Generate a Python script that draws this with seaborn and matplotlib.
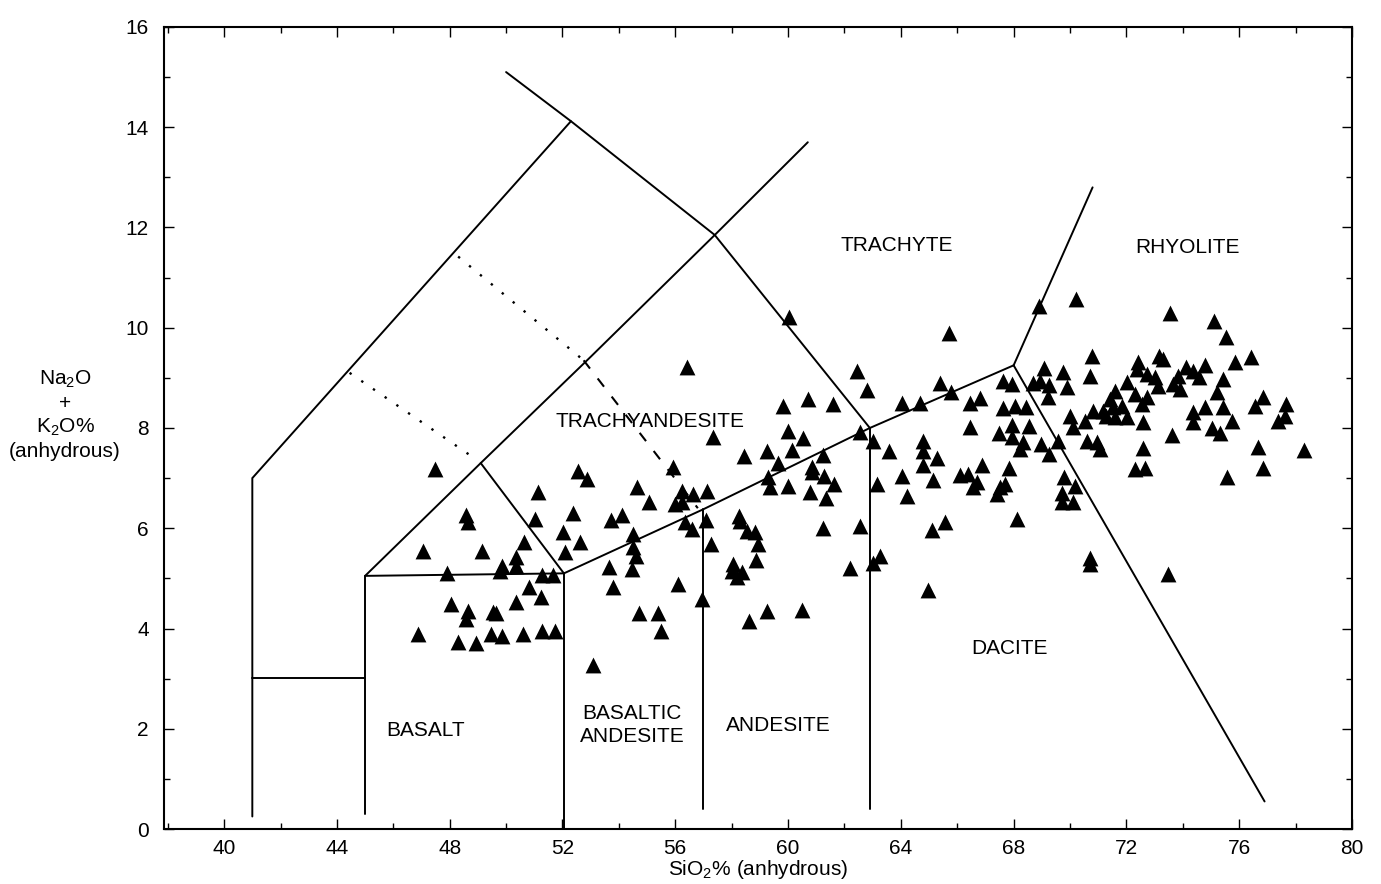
import numpy as np
import pandas as pd
import matplotlib
matplotlib.use("Agg")
import matplotlib.pyplot as plt
import seaborn as sns

# ---------------- data ----------------
# basaltic / trachybasaltic field samples
sio2_a = [47.48, 52.55, 52.87, 55.92, 51.13, 54.65, 55.07, 48.58, 48.65, 51.03, 52.38, 53.72, 54.11,
          52.02, 52.62, 52.09, 47.06, 49.15, 50.64, 50.35, 50.35, 49.86, 49.79, 47.90, 51.28, 51.67,
          54.50, 54.50, 54.61, 54.47, 53.65, 53.79, 56.10, 50.82, 51.24, 50.35, 48.05, 48.65, 48.58,
          49.54, 49.65, 54.72, 55.39, 55.50, 46.88, 48.30, 48.94, 49.47, 49.86, 50.60, 51.28, 51.74, 53.09]
alk_a = [7.18, 7.14, 6.98, 7.22, 6.72, 6.82, 6.52, 6.26, 6.12, 6.18, 6.30, 6.16, 6.26,
         5.92, 5.72, 5.52, 5.54, 5.54, 5.72, 5.42, 5.24, 5.24, 5.14, 5.10, 5.06, 5.06,
         5.88, 5.62, 5.44, 5.18, 5.22, 4.82, 4.88, 4.82, 4.62, 4.52, 4.48, 4.34, 4.18,
         4.32, 4.30, 4.30, 4.30, 3.96, 3.90, 3.74, 3.72, 3.90, 3.86, 3.90, 3.96, 3.96, 3.28]

# andesitic field samples
sio2_b = [56.42, 59.82, 60.71, 61.60, 62.45, 57.34, 60.00, 60.53, 58.44, 59.26, 60.14, 61.24, 59.65,
          60.85, 60.85, 61.28, 61.63, 59.29, 59.36, 60.00, 60.78, 61.35, 56.24, 56.63, 57.13, 55.99,
          56.24, 56.35, 56.60, 57.09, 58.26, 58.30, 58.55, 58.83, 58.94, 57.27, 58.87, 58.05, 58.01,
          58.37, 58.19, 56.95, 58.62, 59.26, 60.50, 61.24, 62.20, 60.04]
alk_b = [9.22, 8.44, 8.58, 8.48, 9.14, 7.82, 7.94, 7.80, 7.44, 7.54, 7.56, 7.46, 7.30,
         7.22, 7.12, 7.04, 6.88, 7.02, 6.82, 6.84, 6.72, 6.60, 6.74, 6.68, 6.74, 6.48,
         6.52, 6.12, 5.98, 6.16, 6.24, 6.14, 5.94, 5.92, 5.68, 5.68, 5.36, 5.28, 5.14,
         5.12, 5.02, 4.58, 4.14, 4.34, 4.36, 6.00, 5.20, 10.22]

# dacitic / trachytic field samples
sio2_c = [65.71, 62.80, 65.39, 64.04, 64.68, 65.78, 66.45, 66.81, 67.62, 67.94, 66.45, 67.62, 68.05,
          68.44, 67.94, 68.55, 67.48, 67.94, 68.33, 68.23, 68.97, 69.26, 69.57, 69.08, 69.75, 70.71,
          70.78, 68.69, 68.94, 69.26, 69.89, 69.22, 70.00, 70.53, 70.82, 70.11, 70.60, 70.96, 62.55,
          63.01, 63.58, 64.79, 64.79, 65.28, 64.79, 66.88, 66.10, 66.38, 66.70, 66.56, 64.04, 65.14,
          67.84, 67.52, 67.70, 67.41, 63.16, 64.22, 69.79, 70.18, 69.72, 69.72, 70.11, 62.55, 65.11,
          65.57, 68.12, 63.26, 63.01, 64.96, 70.71, 70.71]
alk_c = [9.90, 8.76, 8.90, 8.50, 8.50, 8.72, 8.50, 8.60, 8.94, 8.88, 8.02, 8.40, 8.44,
         8.42, 8.06, 8.04, 7.90, 7.82, 7.72, 7.58, 7.68, 7.48, 7.74, 9.20, 9.12, 9.04,
         9.44, 8.90, 8.94, 8.86, 8.82, 8.62, 8.24, 8.14, 8.34, 8.02, 7.74, 7.72, 7.92,
         7.74, 7.54, 7.74, 7.54, 7.40, 7.26, 7.26, 7.06, 7.08, 6.92, 6.82, 7.04, 6.96,
         7.20, 6.82, 6.88, 6.68, 6.88, 6.64, 7.02, 6.84, 6.70, 6.52, 6.52, 6.04, 5.96,
         6.12, 6.18, 5.44, 5.30, 4.76, 5.40, 5.28]

# rhyolitic field samples
sio2_d = [68.90, 70.21, 73.55, 75.11, 75.53, 73.16, 73.30, 72.41, 75.85, 76.42, 72.38, 72.73, 74.11,
          74.36, 74.79, 73.83, 74.57, 75.43, 73.01, 73.12, 73.65, 73.90, 75.21, 72.02, 71.60, 72.30,
          72.73, 72.55, 71.42, 71.84, 71.52, 71.17, 71.28, 71.60, 72.02, 72.59, 76.84, 76.56, 77.66,
          77.62, 77.38, 74.36, 74.79, 75.43, 75.74, 74.36, 75.04, 75.32, 73.62, 71.06, 72.59, 76.67,
          78.30, 72.30, 72.66, 76.84, 75.57, 73.48]
alk_d = [10.44, 10.58, 10.30, 10.14, 9.82, 9.44, 9.38, 9.32, 9.32, 9.42, 9.18, 9.08, 9.22,
         9.14, 9.26, 9.04, 9.02, 8.98, 9.02, 8.84, 8.88, 8.78, 8.72, 8.92, 8.74, 8.68,
         8.62, 8.48, 8.58, 8.44, 8.42, 8.34, 8.24, 8.22, 8.22, 8.12, 8.62, 8.44, 8.48,
         8.24, 8.14, 8.32, 8.42, 8.42, 8.14, 8.12, 8.00, 7.90, 7.86, 7.58, 7.60, 7.62,
         7.56, 7.18, 7.20, 7.20, 7.02, 5.08]

# classification boundaries (SiO2, Na2O+K2O)
outer_x, outer_y = [41, 41, 52.3], [0.25, 7.0, 14.12]
top_x, top_y = [50.0, 52.3, 57.4, 62.9], [15.1, 14.12, 11.85, 8.0]
tephri_x, tephri_y = [45, 49.1, 53.0, 57.4, 60.7], [5.05, 7.3, 9.42, 11.85, 13.7]
tbas_x, tbas_y = [49.1, 52.05], [7.3, 5.1]
bastop_x, bastop_y = [45, 52.05], [5.05, 5.1]
main_x, main_y = [52.05, 57.0, 62.9, 68.0], [5.1, 6.38, 8.0, 9.25]
rhy_up_x, rhy_up_y = [68.0, 70.8], [9.25, 12.8]
rhy_dac_x, rhy_dac_y = [68.0, 76.9], [9.25, 0.55]
pic_x, pic_y = [41, 45], [3.02, 3.02]
vert_x = [45.0, 52.05, 57.0, 62.9]
vert_lo = [0.3, 0.0, 0.4, 0.4]
vert_hi = [5.05, 5.1, 6.38, 8.0]
dot1_x, dot1_y = [44.45, 49.0], [9.1, 7.35]
dot2_x, dot2_y = [48.3, 52.75], [11.42, 9.35]
dash_x, dash_y = [52.75, 56.8], [9.35, 6.4]

field_names = ["TRACHYTE", "RHYOLITE", "TRACHYANDESITE", "DACITE", "BASALT", "BASALTIC\nANDESITE", "ANDESITE"]
field_x = [63.87, 74.18, 55.1, 67.87, 47.13, 54.47, 59.65]
field_y = [11.64, 11.6, 8.12, 3.61, 1.96, 2.08, 2.06]

x_ticks = [40, 44, 48, 52, 56, 60, 64, 68, 72, 76, 80]
y_ticks = [0, 2, 4, 6, 8, 10, 12, 14, 16]

# ---------------- plotting ----------------
sns.set_style("ticks")
plt.rcParams["font.family"] = ["Liberation Sans", "DejaVu Sans"]
plt.rcParams["mathtext.default"] = "regular"
plt.rcParams["text.color"] = "black"
plt.rcParams["axes.labelcolor"] = "black"
plt.rcParams["xtick.color"] = "black"
plt.rcParams["ytick.color"] = "black"

df = pd.DataFrame({
    "sio2": sio2_a + sio2_b + sio2_c + sio2_d,
    "alk": alk_a + alk_b + alk_c + alk_d,
})

fig = plt.figure(figsize=(13.81, 8.84), dpi=100)
ax = fig.add_axes([0.1188, 0.0622, 0.979 - 0.1188, 0.9695 - 0.0622])

lc = "black"
lw = 1.4
for xs, ys in [(outer_x, outer_y), (top_x, top_y), (tephri_x, tephri_y), (tbas_x, tbas_y),
               (bastop_x, bastop_y), (main_x, main_y), (rhy_up_x, rhy_up_y),
               (rhy_dac_x, rhy_dac_y), (pic_x, pic_y)]:
    ax.plot(xs, ys, color=lc, lw=lw, solid_joinstyle="miter")
for xv, lo, hi in zip(vert_x, vert_lo, vert_hi):
    ax.plot([xv, xv], [lo, hi], color=lc, lw=lw)
ax.plot(dot1_x, dot1_y, color=lc, lw=1.7, linestyle=(0, (1, 5)))
ax.plot(dot2_x, dot2_y, color=lc, lw=1.7, linestyle=(0, (1, 5)))
ax.plot(dash_x, dash_y, color=lc, lw=1.5, linestyle=(0, (5, 6)))

sns.scatterplot(data=df, x="sio2", y="alk", marker="^", color="black", s=130,
                linewidth=0, ax=ax, zorder=5, legend=False)

for name, fx, fy in zip(field_names, field_x, field_y):
    ax.text(fx, fy, name, ha="center", va="center", fontsize=15, linespacing=1.25, color="black")

ax.set_xlim(37.87, 80)
ax.set_ylim(0, 16)
ax.set_xticks(x_ticks)
ax.set_yticks(y_ticks)
ax.set_xticks(np.arange(38, 81, 2), minor=True)
ax.set_yticks(np.arange(0, 17, 1), minor=True)
ax.tick_params(which="major", direction="in", length=7, width=1, labelsize=15,
               top=True, right=True, color="black", labelcolor="black")
ax.tick_params(which="minor", direction="in", length=4, width=1, top=True, right=True, color="black")
ax.tick_params(axis="y", which="major", pad=11)
ax.tick_params(axis="x", which="major", pad=7)
for sp in ax.spines.values():
    sp.set_linewidth(1.5)
    sp.set_color("black")

ax.set_xlabel("SiO$_2$% (anhydrous)", fontsize=15, labelpad=0, color="black")
ax.set_ylabel("")
fig.text(65 / 1381, 1 - 415 / 884, "Na$_2$O\n+\nK$_2$O%\n(anhydrous)", ha="center", va="center",
         fontsize=15, linespacing=1.25, multialignment="center", color="black")

fig.savefig("out.png", dpi=100, facecolor="white")
